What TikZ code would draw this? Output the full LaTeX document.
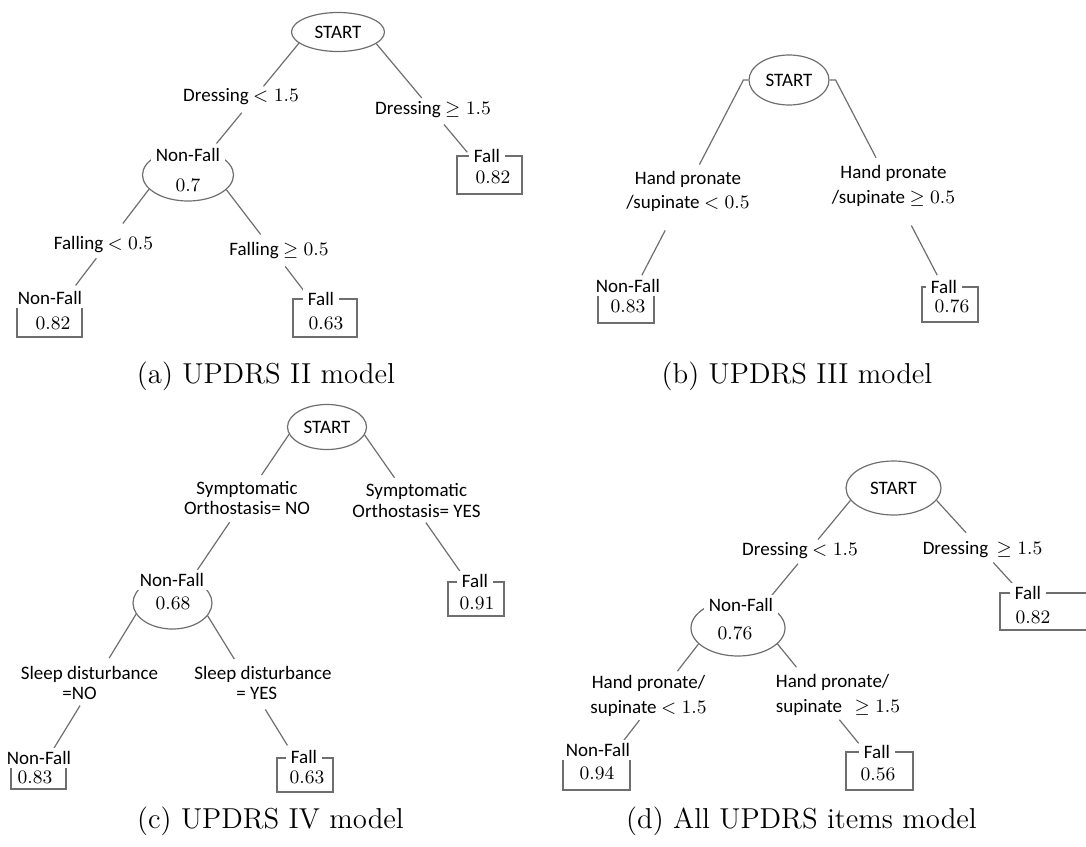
\RequirePackage{fix-cm}
\documentclass[tikz,border=0pt]{standalone}
\usepackage{fontspec}
\newfontfamily\calfont{Carlito}
\usetikzlibrary{shapes.geometric}
\definecolor{lc}{RGB}{110,110,110}
\begin{document}
\begin{tikzpicture}[x=0.5pt,y=-0.5pt,
  ell/.style 2 args={draw=lc,line width=0.6pt,ellipse,inner sep=0pt,
    minimum width=0.5pt*#1,minimum height=0.5pt*#2,
    font=\calfont\fontsize{9.5}{11.4}\selectfont},
  leafbox/.style 2 args={draw=lc,line width=0.6pt,rectangle,inner sep=0pt,
    minimum width=0.5pt*#1,minimum height=0.5pt*#2},
  cond/.style={font=\calfont\fontsize{9.5}{#1}\selectfont,inner sep=0pt,align=center},
  cond/.default=11.4,
  lab/.style={font=\calfont\fontsize{9.5}{11.4}\selectfont,fill=white,inner xsep=2.5pt,inner ysep=1.5pt},
  num/.style={font=\fontsize{9.5}{11.4}\selectfont,inner sep=0pt},
  edge/.style={draw=lc,line width=0.6pt},
  subcap/.style={font=\fontsize{14.4}{17}\selectfont,inner sep=0pt,anchor=base}]
\useasboundingbox (0,0) rectangle (1086,846);
\clip (0,0) rectangle (1086,846);

% ---------- (a) ----------
\node[ell={93}{39}] (aS) at (338,32) {START};
\node[ell={91}{52}] (aN) at (188,175) {};
\node[leafbox={65}{32}] (aL) at (49.5,321) {};
\node[leafbox={64}{38}] (aR2) at (325,318) {};
\node[leafbox={65}{38}] (aR1) at (489.5,175) {};
\draw[edge,dash pattern=on 27.9pt off 17.15pt on 19.85pt off 50pt] (aS.196.6) -- (aN.47.1);
\draw[edge,dash pattern=on 21.6pt off 21.8pt on 17.1pt off 50pt] (aN.200.4) -- (aL.55.25);
\draw[edge,dash pattern=on 28.15pt off 20.2pt on 15pt off 50pt] (aN.339.2) -- (aR2.128.5);
\draw[edge,dash pattern=on 35.35pt off 17.35pt on 18.15pt off 50pt] (aS.343.8) -- (aR1.135.3);
\node[cond] (aC1) at (241,97) {Dressing $<1.5$};
\node[cond] (aC2) at (433,110) {Dressing $\geq 1.5$};
\node[cond] (aC3) at (103.5,245) {Falling $<0.5$};
\node[cond] (aC4) at (279,251) {Falling $\geq 0.5$};
\node[lab] (aNt) at (188,155) {Non-Fall};
\node[lab] (aLt) at (50,298) {Non-Fall};
\node[lab] (aR2t) at (321,299) {Fall};
\node[lab] (aR1t) at (487,156) {Fall};
\node[num] (aNv) at (188,185) {$0.7$};
\node[num] (aLv) at (53,323) {$0.82$};
\node[num] (aR2v) at (326,323) {$0.63$};
\node[num] (aR1v) at (493,177) {$0.82$};
\node[subcap] (capA) at (266,383) {(a) UPDRS II model};

% ---------- (b) ----------
\node[ell={80}{50}] (bS) at (789,80) {START};
\node[leafbox={56}{29}] (bL) at (626,308.5) {};
\node[leafbox={56}{35}] (bR) at (950,304.5) {};
\draw[edge,dash pattern=on 50.15pt off 37.1pt on 25.3pt off 50pt] (bS.west) -- ++(-5,0) -- (bL.67.5);
\draw[edge,dash pattern=on 46.8pt off 38.2pt on 28pt off 50pt] (bS.east) -- ++(6,0) -- (bR.111);
\node[cond=12] (bC1) at (688,191.5) {Hand pronate\\/supinate $<0.5$};
\node[cond=12.2] (bC2) at (893.5,186) {Hand pronate\\/supinate $\geq 0.5$};
\node[lab] (bLt) at (628,286) {Non-Fall};
\node[lab] (bRt) at (944,287) {Fall};
\node[num] (bLv) at (628,306) {$0.83$};
\node[num] (bRv) at (952,306) {$0.76$};
\node[subcap] (capB) at (797,383) {(b) UPDRS III model};

% ---------- (c) ----------
\node[ell={79}{45}] (cS) at (327,427) {START};
\node[ell={79}{52}] (cN) at (172.5,603) {};
\node[leafbox={55}{25}] (cL) at (38.5,776.5) {};
\node[leafbox={56}{34}] (cR2) at (305,775) {};
\node[leafbox={56}{34}] (cR1) at (476,599) {};
\draw[edge,dash pattern=on 24.55pt off 28.45pt on 29.1pt off 50pt] (cS.191.4) -- (cN.52.5);
\draw[edge,dash pattern=on 26.1pt off 27.3pt on 30.4pt off 50pt] (cS.348.75) -- (cR1.117.9);
\draw[edge,dash pattern=on 25.7pt off 27.9pt on 25.1pt off 50pt] (cN.197.3) -- (cL.65.9);
\draw[edge,dash pattern=on 25.4pt off 29.6pt on 21.1pt off 50pt] (cN.340) -- (cR2.120.5);
\node[cond=10.2] (cC1) at (247,498) {Symptomatic\\Orthostasis= NO};
\node[cond=10.2] (cC2) at (416.5,500.5) {Symptomatic\\Orthostasis= YES};
\node[cond=10.2] (cC3) at (89.5,683) {Sleep disturbance\\=NO\hspace*{10pt}};
\node[cond=10.2] (cC4) at (263,683) {Sleep disturbance\\= YES\hspace*{6.3pt}};
\node[lab] (cNt) at (172,580) {Non-Fall};
\node[lab] (cLt) at (39,758) {Non-Fall};
\node[lab] (cR2t) at (304,757) {Fall};
\node[lab] (cR1t) at (475,581) {Fall};
\node[num] (cNv) at (173,603) {$0.68$};
\node[num] (cLv) at (35,777) {$0.83$};
\node[num] (cR2v) at (307,777) {$0.63$};
\node[num] (cR1v) at (477,603) {$0.91$};
\node[subcap] (capC) at (270.5,828) {(c) UPDRS IV model};

% ---------- (d) ----------
\node[ell={95}{54}] (dS) at (893.5,488) {START};
\node[ell={94}{56}] (dN) at (738,628) {};
\node[leafbox={67}{33}] (dL) at (596.5,773.5) {};
\node[leafbox={67}{38}] (dR2) at (879.5,771) {};
\node[leafbox={90}{37}] (dR1) at (1045,611.5) {};
\draw[edge,dash pattern=on 25.45pt off 15.7pt on 22pt off 50pt] (dS.196.25) -- (dN.42.4);
\draw[edge,dash pattern=on 21.9pt off 20.2pt on 14.15pt off 50pt] (dS.344.3) -- (dR1.142.3);
\draw[edge,dash pattern=on 17.2pt off 31pt on 13.6pt off 50pt] (dN.202.6) -- (dL.49.9);
\draw[edge,dash pattern=on 15pt off 33.9pt on 15.25pt off 50pt] (dN.338.1) -- (dR2.126.8);
\node[cond] (dC1) at (800,551) {Dressing $<1.5$};
\node[cond] (dC2) at (982.5,550) {Dressing\hspace{2pt} $\geq 1.5$};
\node[cond=12.8] (dC3) at (648.5,696) {Hand pronate/\\supinate $<1.5$};
\node[cond=12.8,align=left] (dC4) at (838,695) {Hand pronate/\\supinate\hspace{4pt} $\geq 1.5$};
\node[lab] (dNt) at (741,605) {Non-Fall};
\node[lab] (dLt) at (598,750) {Non-Fall};
\node[lab] (dR2t) at (877,752) {Fall};
\node[lab] (dR1t) at (1028,593) {Fall};
\node[num] (dNv) at (735,633) {$0.76$};
\node[num] (dLv) at (597,773) {$0.94$};
\node[num] (dR2v) at (878,774) {$0.56$};
\node[num] (dR1v) at (1033,617) {$0.82$};
\node[subcap] (capD) at (801.5,828) {(d) All UPDRS items model};
\end{tikzpicture}
\end{document}
